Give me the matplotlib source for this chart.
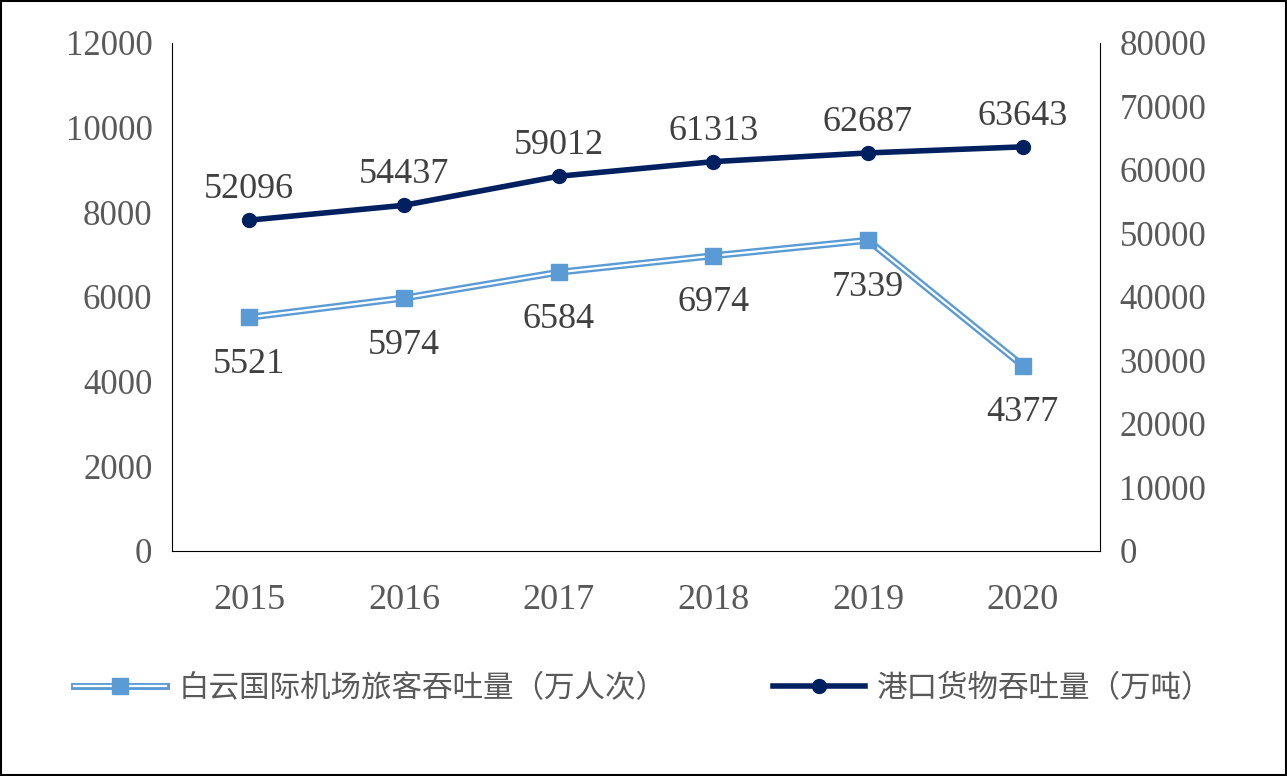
import matplotlib
matplotlib.use("Agg")
import matplotlib.pyplot as plt
from matplotlib.lines import Line2D

years = ["2015", "2016", "2017", "2018", "2019", "2020"]
airport = [5521, 5974, 6584, 6974, 7339, 4377]
port = [52096, 54437, 59012, 61313, 62687, 63643]
airport_name = "白云国际机场旅客吞吐量（万人次）"
port_name = "港口货物吞吐量（万吨）"

serif = "Liberation Serif"
cjk = "Noto Sans CJK SC"
gray = "#595959"
light = "#5B9BD5"
navy = "#002060"

fig = plt.figure(figsize=(12.87, 7.76), dpi=100)
ax = fig.add_axes([0.1336, 0.29, 0.7211, 0.6546])
ax2 = ax.twinx()
x = list(range(len(years)))

ax.plot(x, airport, color=light, lw=5, zorder=3)
ax.plot(x, airport, color="white", lw=1.6, zorder=4)
ax.plot(x, airport, ls="none", marker="s", ms=11, color=light, zorder=5)
ax2.plot(x, port, color=navy, lw=4, marker="o", ms=10, zorder=5)

ax.set_ylim(0, 12000)
ax.set_yticks(range(0, 12001, 2000))
ax2.set_ylim(0, 80000)
ax2.set_yticks(range(0, 80001, 10000))
ax.set_xlim(-0.5, 5.5)
ax.set_xticks(x)
ax.set_xticklabels(years)

for a in (ax, ax2):
    for s in ("top", "right", "left", "bottom"):
        a.spines[s].set_visible(False)
    a.tick_params(length=0, labelsize=25, labelcolor=gray, pad=14)
    for t in a.get_xticklabels() + a.get_yticklabels():
        t.set_fontfamily(serif)
ax.spines["left"].set_visible(True)
ax.spines["bottom"].set_visible(True)
ax2.spines["right"].set_visible(True)
ax.tick_params(axis="x", labelsize=26, pad=24)

for i, v in enumerate(airport):
    ax.annotate(str(v), (i, v), xytext=(0, -22), textcoords="offset points",
                ha="center", va="top", fontsize=26, family=serif, color="#404040")
for i, v in enumerate(port):
    ax2.annotate(str(v), (i, v), xytext=(0, 10), textcoords="offset points",
                 ha="center", va="bottom", fontsize=26, family=serif, color="#404040")

l_a = Line2D([], [], color=light, lw=5)
l_b = Line2D([], [], color="white", lw=1.6)
l_c = Line2D([], [], ls="none", marker="s", ms=11, color=light)
l_p = Line2D([], [], color=navy, lw=4, marker="o", ms=10)
fig.legend([(l_a, l_b, l_c), l_p], [airport_name, port_name], loc="center",
           bbox_to_anchor=(0.5, 0.113), ncol=2, frameon=False, columnspacing=3.5,
           handlelength=3.0, handletextpad=0.4, prop={"family": cjk, "size": 22},
           labelcolor=gray)

fig.add_artist(plt.Rectangle((0.001, 0.001), 0.998, 0.998, transform=fig.transFigure,
                             fill=False, ec="black", lw=1.5))
fig.savefig("out.png", dpi=100)
